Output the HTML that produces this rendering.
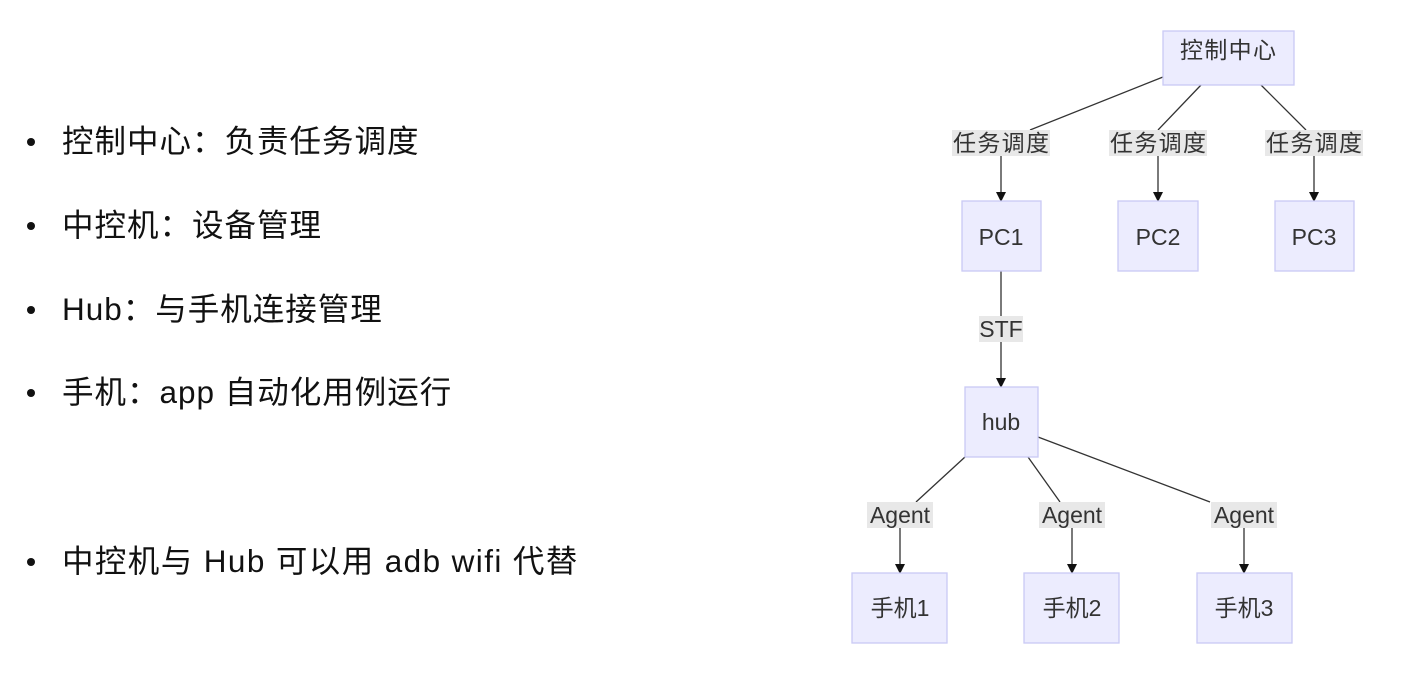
<!DOCTYPE html>
<html><head><meta charset="utf-8"><style>
body{margin:0;width:1413px;height:680px;background:#fff;position:relative;overflow:hidden;font-family:"Liberation Sans","Noto Sans CJK SC",sans-serif;}
.li{position:absolute;left:62px;font-size:31.5px;letter-spacing:1px;color:#111;font-family:"Liberation Sans","Noto Sans CJK SC",sans-serif;line-height:40px;white-space:nowrap;}
.li:before{content:"";position:absolute;left:-35px;top:17px;width:8px;height:8px;border-radius:50%;background:#111;}
</style></head><body>
<div class="li" style="top:121px">控制中心：负责任务调度</div>
<div class="li" style="top:205px">中控机：设备管理</div>
<div class="li" style="top:289px">Hub：与手机连接管理</div>
<div class="li" style="top:372px">手机：app 自动化用例运行</div>
<div class="li" style="top:541px;letter-spacing:1.4px">中控机与 Hub 可以用 adb wifi 代替</div>
<svg width="1413" height="680" style="position:absolute;left:0;top:0" font-family="Liberation Sans, Noto Sans CJK SC, sans-serif" font-size="23" fill="#333">
<defs><marker id="a" markerWidth="10" markerHeight="10" refX="9" refY="5" orient="auto" markerUnits="userSpaceOnUse"><path d="M0,0L10,5L0,10z" fill="#111"/></marker></defs>
<g stroke="#333" stroke-width="1.3" fill="none">
<line x1="1163" y1="77" x2="1030" y2="130"/><line x1="1201" y1="85" x2="1158" y2="130"/><line x1="1261" y1="85" x2="1306" y2="130"/>
<line x1="1001" y1="156" x2="1001" y2="201" marker-end="url(#a)"/><line x1="1158" y1="156" x2="1158" y2="201" marker-end="url(#a)"/><line x1="1314" y1="156" x2="1314" y2="201" marker-end="url(#a)"/>
<line x1="1001" y1="271" x2="1001" y2="316"/><line x1="1001" y1="342" x2="1001" y2="387" marker-end="url(#a)"/>
<line x1="965" y1="457" x2="916" y2="502"/><line x1="1028" y1="457" x2="1060" y2="502"/><line x1="1038" y1="437" x2="1210" y2="502"/>
<line x1="900" y1="528" x2="900" y2="573" marker-end="url(#a)"/><line x1="1072" y1="528" x2="1072" y2="573" marker-end="url(#a)"/><line x1="1244" y1="528" x2="1244" y2="573" marker-end="url(#a)"/>
</g>
<g fill="#ececfe" stroke="#c9c9f5" stroke-width="1.3">
<rect x="1163" y="31" width="131" height="54"/>
<rect x="962" y="201" width="79" height="70"/><rect x="1118" y="201" width="80" height="70"/><rect x="1275" y="201" width="79" height="70"/>
<rect x="965" y="387" width="73" height="70"/>
<rect x="852" y="573" width="95" height="70"/><rect x="1024" y="573" width="95" height="70"/><rect x="1197" y="573" width="95" height="70"/>
</g>
<g fill="#e8e8e8">
<rect x="952" y="130" width="98" height="26"/><rect x="1109" y="130" width="98" height="26"/><rect x="1265" y="130" width="98" height="26"/>
<rect x="979" y="316" width="44" height="26"/>
<rect x="867" y="502" width="66" height="26"/><rect x="1039" y="502" width="66" height="26"/><rect x="1211" y="502" width="66" height="26"/>
</g>
<g text-anchor="middle">
<text x="1228" y="58" textLength="96">控制中心</text>
<text x="1001" y="151" textLength="96">任务调度</text><text x="1158" y="151" textLength="96">任务调度</text><text x="1314" y="151" textLength="96">任务调度</text>
<text x="1001" y="245">PC1</text><text x="1158" y="245">PC2</text><text x="1314" y="245">PC3</text>
<text x="1001" y="337">STF</text>
<text x="1001" y="430">hub</text>
<text x="900" y="523">Agent</text><text x="1072" y="523">Agent</text><text x="1244" y="523">Agent</text>
<text x="900" y="616">手机1</text><text x="1072" y="616">手机2</text><text x="1244" y="616">手机3</text>
</g>
</svg>
</body></html>
